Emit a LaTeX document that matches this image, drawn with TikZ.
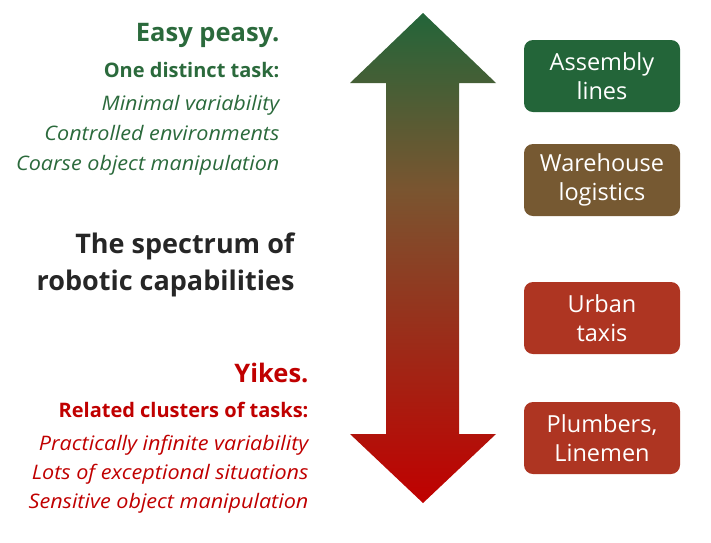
\documentclass[tikz,border=0pt]{standalone}
\usepackage{fontspec}
\setmainfont{Open Sans}[ItalicFeatures={FakeStretch=1.08}]
\definecolor{easygreen}{HTML}{2B6A3C}
\definecolor{boxgreen}{HTML}{236539}
\definecolor{boxbrown}{HTML}{765932}
\definecolor{boxred}{HTML}{AE3522}
\definecolor{yikesred}{HTML}{C00000}
\definecolor{darktext}{HTML}{262626}
\pgfdeclareverticalshading{spectrum}{100bp}{rgb(0bp)=(0.753,0,0); rgb(25bp)=(0.753,0,0);
  rgb(57bp)=(0.478,0.333,0.188); rgb(75bp)=(0.137,0.396,0.224); rgb(100bp)=(0.137,0.396,0.224)}
\begin{document}
\begin{tikzpicture}[x=1pt,y=-1pt]
        \useasboundingbox (0,0) rectangle (711,542);
        \tikzstyle{job}=[rounded corners=9pt, minimum width=156pt, minimum height=72pt,
          text=white, align=center, font=\fontsize{23.5}{29}\selectfont]
        \tikzstyle{head}=[anchor=base east, font=\bfseries\fontsize{25.5}{30}\selectfont]
        \tikzstyle{sub}=[anchor=base east, font=\bfseries\fontsize{20}{24}\selectfont]
        \tikzstyle{item}=[anchor=base east, font=\itshape\fontsize{20}{24}\selectfont]
        \tikzstyle{title}=[anchor=base east, text=darktext, font=\bfseries\fontsize{27}{32}\selectfont]

        % the arrow
        \shade[shading=spectrum]
          (423,13) -- (496,83) -- (459,83) -- (459,434) -- (496,434)
          -- (423,503) -- (350,434) -- (386,434) -- (386,83) -- (350,83) -- cycle;

        % easy end
        \path (283,41) node[head, text=easygreen] (easy) {Easy peasy.};
        \path (283,77) node[sub, text=easygreen] (one) {One distinct task:};
        \foreach \t [count=\i] in {Minimal variability, Controlled environments, Coarse object manipulation}
        {
          \path (283,80+\i*30) node[item, text=easygreen] (e\i) {\t};
        }

        % middle
        \path (298,253) node[title] (title1) {The spectrum of};
        \path (298,290) node[title] (title2) {robotic capabilities};

        % hard end
        \path (312,382) node[head, text=yikesred] (yikes) {Yikes.};
        \path (312,417) node[sub, text=yikesred] (rel) {Related clusters of tasks:};
        \foreach \t [count=\i] in {Practically infinite variability, Lots of exceptional situations, Sensitive object manipulation}
        {
          \path (312,421+\i*29) node[item, text=yikesred] (h\i) {\t};
        }

        % examples
        \path (602,76) node[job, fill=boxgreen] (assembly) {Assembly\\lines};
        \path (602,180) node[job, fill=boxbrown] (warehouse) {Warehouse\\logistics};
        \path (602,318) node[job, fill=boxred] (taxis) {Urban\\taxis};
        \path (602,438) node[job, fill=boxred] (plumbers) {Plumbers,\\Linemen};
      \end{tikzpicture}
\end{document}
